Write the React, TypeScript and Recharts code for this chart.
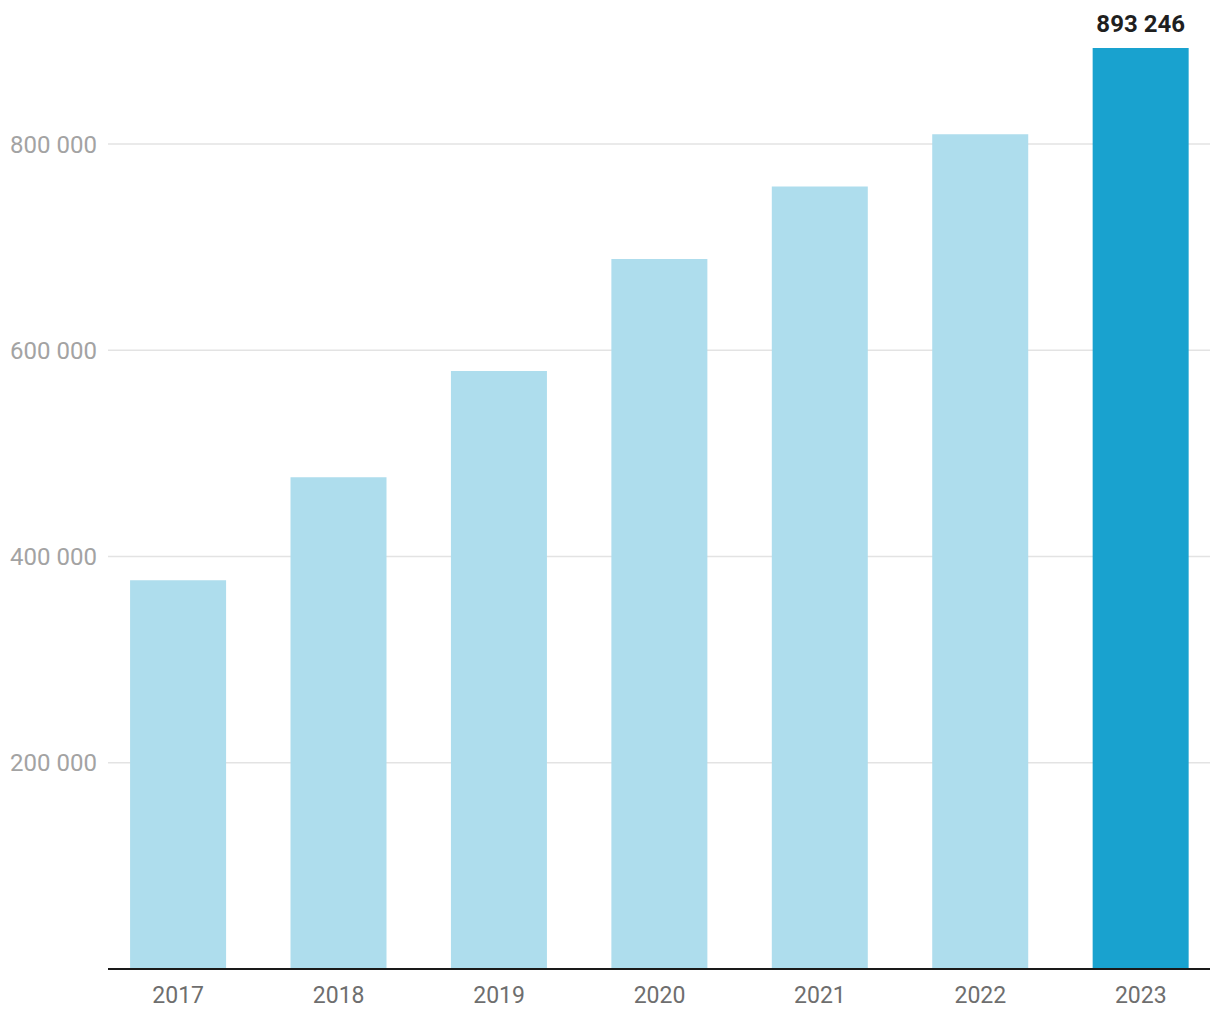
import React from "react";
import { BarChart, Bar, XAxis, YAxis, CartesianGrid, Cell, LabelList } from "recharts";

const years = ["2017", "2018", "2019", "2020", "2021", "2022", "2023"];
const values = [377000, 477000, 580000, 688500, 759000, 809500, 893246];
const highlightIndex = 6;
const yTicks = [200000, 400000, 600000, 800000];

const LIGHT = "#aedded";
const DARK = "#19a2cf";

const fmt = (v: number) => String(Math.round(v)).replace(/\B(?=(\d{3})+(?!\d))/g, " ");

const data = years.map((y, i) => ({
  year: y,
  value: values[i],
  label: i === highlightIndex ? fmt(values[i]) : "",
}));

export default function App() {
  return (
    <div style={{ width: 1204, height: 1004, fontFamily: "Roboto" }}>
      <BarChart
        width={1204}
        height={1004}
        data={data}
        margin={{ top: 33, right: 2, bottom: 0, left: 0 }}
        barCategoryGap="20%"
      >
        <CartesianGrid
          vertical={false}
          horizontalValues={yTicks}
          stroke="#e3e3e3"
          strokeWidth={1.5}
        />
        <XAxis
          dataKey="year"
          tickLine={false}
          axisLine={{ stroke: "#1a1a1a", strokeWidth: 2 }}
          tick={{ fill: "#6e6e6e", fontSize: 23, fontFamily: "Roboto" }}
          tickMargin={12}
          height={43}
          padding={{ left: -10, right: -11 }}
        />
        <YAxis
          width={100}
          domain={[0, 900000]}
          ticks={yTicks}
          tickFormatter={fmt}
          tickLine={false}
          axisLine={false}
          tickMargin={5}
          tick={{ fill: "#a3a3a3", fontSize: 24, fontFamily: "Roboto" }}
        />
        <Bar dataKey="value" isAnimationActive={false}>
          {data.map((d, i) => (
            <Cell key={d.year} fill={i === highlightIndex ? DARK : LIGHT} />
          ))}
          <LabelList
            dataKey="label"
            position="top"
            offset={16}
            fill="#1f1f1f"
            fontSize={24}
            fontWeight="bold"
            fontFamily="Roboto"
          />
        </Bar>
      </BarChart>
    </div>
  );
}
